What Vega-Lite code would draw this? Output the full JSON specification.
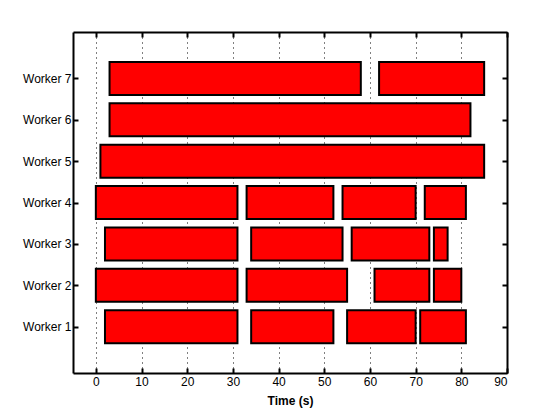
{
  "$schema": "https://vega.github.io/schema/vega-lite/v6.json",
  "width": 434,
  "height": 341,
  "autosize": {"type": "none"},
  "padding": {"left": 73, "top": 32, "right": 53, "bottom": 47},
  "background": "white",
  "config": {
    "view": {"stroke": null},
    "axis": {
      "labelFont": "Liberation Sans",
      "titleFont": "Liberation Sans",
      "labelFontSize": 12,
      "labelColor": "black",
      "titleColor": "black",
      "domainColor": "black",
      "domainWidth": 2,
      "tickColor": "black",
      "tickWidth": 2,
      "tickSize": -5
    }
  },
  "data": {
    "values": [
      {"worker": 7, "start": 3, "end": 58},
      {"worker": 7, "start": 62, "end": 85},
      {"worker": 6, "start": 3, "end": 82},
      {"worker": 5, "start": 1, "end": 85},
      {"worker": 4, "start": 0, "end": 31},
      {"worker": 4, "start": 33, "end": 52},
      {"worker": 4, "start": 54, "end": 70},
      {"worker": 4, "start": 72, "end": 81},
      {"worker": 3, "start": 2, "end": 31},
      {"worker": 3, "start": 34, "end": 54},
      {"worker": 3, "start": 56, "end": 73},
      {"worker": 3, "start": 74, "end": 77},
      {"worker": 2, "start": 0, "end": 31},
      {"worker": 2, "start": 33, "end": 55},
      {"worker": 2, "start": 61, "end": 73},
      {"worker": 2, "start": 74, "end": 80},
      {"worker": 1, "start": 2, "end": 31},
      {"worker": 1, "start": 34, "end": 52},
      {"worker": 1, "start": 55, "end": 70},
      {"worker": 1, "start": 71, "end": 81}
    ]
  },
  "layer": [
    {
      "mark": {"type": "bar", "color": "#ff0000", "stroke": "black", "strokeWidth": 2, "size": 33, "orient": "horizontal"},
      "encoding": {
        "x": {
          "field": "start", "type": "quantitative",
          "scale": {"domain": [-5, 90], "nice": false, "zero": false},
          "axis": {
            "orient": "bottom", "values": [0,10,20,30,40,50,60,70,80,90],
            "title": "Time (s)", "titleFontWeight": "bold", "titleFontSize": 12, "titlePadding": 8,
            "labelPadding": 8,
            "grid": true, "gridColor": "black", "gridDash": [1, 4], "gridWidth": 1
          }
        },
        "x2": {"field": "end"},
        "y": {
          "field": "worker", "type": "quantitative",
          "scale": {"domain": [0, 8], "nice": false, "zero": false},
          "axis": {
            "orient": "left", "values": [1,2,3,4,5,6,7],
            "labelExpr": "'Worker ' + datum.value",
            "title": null, "grid": false, "labelPadding": 7
          }
        }
      }
    },
    {
      "mark": {"type": "bar", "opacity": 0, "size": 33, "orient": "horizontal"},
      "encoding": {
        "x": {
          "field": "start", "type": "quantitative",
          "scale": {"domain": [-5, 90], "nice": false, "zero": false},
          "axis": {"orient": "top", "values": [0,10,20,30,40,50,60,70,80,90], "labels": false, "title": null, "grid": false}
        },
        "x2": {"field": "end"},
        "y": {
          "field": "worker", "type": "quantitative",
          "scale": {"domain": [0, 8], "nice": false, "zero": false},
          "axis": {"orient": "right", "values": [1,2,3,4,5,6,7], "labels": false, "title": null, "grid": false}
        }
      }
    }
  ],
  "resolve": {"axis": {"x": "independent", "y": "independent"}}
}
